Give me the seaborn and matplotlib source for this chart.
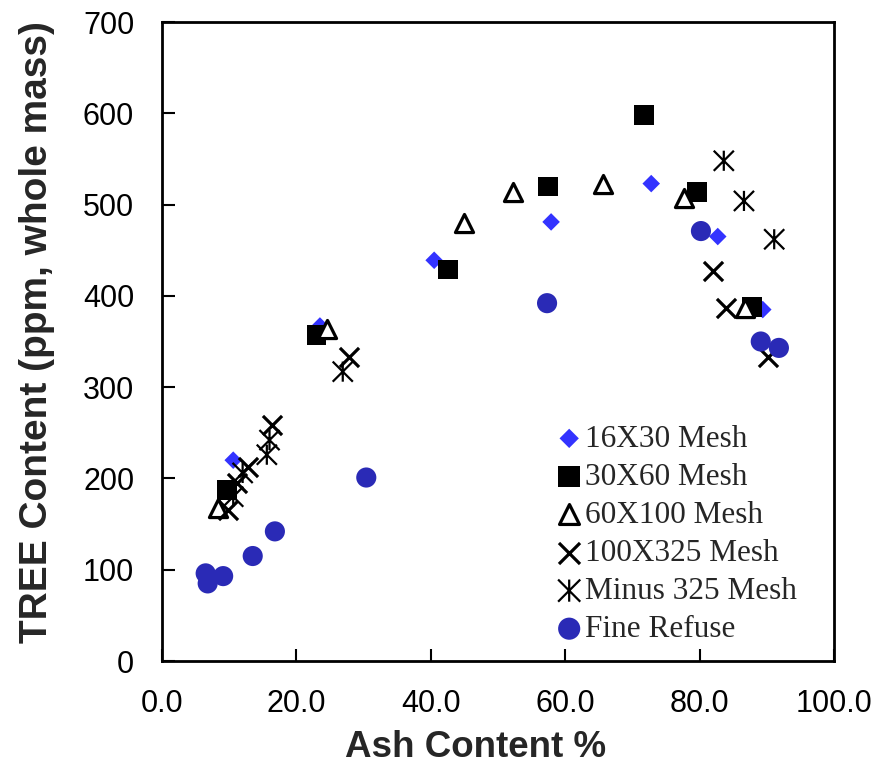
import numpy as np
import pandas as pd
import seaborn as sns
import matplotlib
matplotlib.use("Agg")
import matplotlib.pyplot as plt
from matplotlib.path import Path

# Ash content (%) and TREE content (ppm, whole mass) for each size fraction
ash_16x30 = [10.6, 23.5, 40.5, 57.9, 72.8, 82.7, 89.4]
tree_16x30 = [220, 367, 439, 481, 523, 465, 385]

ash_30x60 = [9.7, 23.0, 42.6, 57.4, 71.7, 79.6, 87.8]
tree_30x60 = [187, 357, 429, 520, 598, 514, 388]

ash_60x100 = [8.3, 24.5, 44.9, 52.2, 65.6, 77.7, 86.8]
tree_60x100 = [168, 364, 480, 514, 523, 507, 387]

ash_100x325 = [9.8, 11.2, 12.8, 16.4, 27.8, 82.0, 83.9, 90.2]
tree_100x325 = [165, 195, 212, 258, 333, 427, 387, 333]

ash_minus325 = [10.6, 12.0, 15.6, 16.0, 26.9, 83.6, 86.6, 91.1]
tree_minus325 = [180, 206, 226, 242, 317, 548, 504, 462]

ash_fine = [6.5, 6.8, 9.1, 13.5, 16.8, 30.4, 57.3, 80.2, 89.1, 91.8]
tree_fine = [96, 85, 93, 115, 142, 201, 392, 471, 350, 343]

x_ticks = [0, 20, 40, 60, 80, 100]
y_ticks = [0, 100, 200, 300, 400, 500, 600, 700]

sns.set_style("white")
plt.rcParams["font.family"] = ["Liberation Sans", "DejaVu Sans"]

fig = plt.figure(figsize=(8.78, 7.67), dpi=100)
ax = fig.add_axes([0.1845, 0.1382, 0.7654, 0.8331])

# star marker: an X with a vertical bar through it
star = Path(
    [(0, -0.5), (0, 0.5), (-0.5, -0.5), (0.5, 0.5), (-0.5, 0.5), (0.5, -0.5)],
    [Path.MOVETO, Path.LINETO, Path.MOVETO, Path.LINETO, Path.MOVETO, Path.LINETO],
)

sns.scatterplot(x=ash_16x30, y=tree_16x30, marker="D", color="#3333FF",
                edgecolor="none", linewidth=0, s=80, label="16X30 Mesh",
                ax=ax, zorder=3)
sns.scatterplot(x=ash_30x60, y=tree_30x60, marker="s", color="black",
                edgecolor="none", linewidth=0, s=200, label="30X60 Mesh",
                ax=ax, zorder=3)
sns.scatterplot(x=ash_60x100, y=tree_60x100, marker="^", color="black",
                facecolor="white", edgecolor="black", linewidth=2.3, s=170,
                label="60X100 Mesh", ax=ax, zorder=3)
sns.scatterplot(x=ash_100x325, y=tree_100x325, marker="x", color="black",
                linewidth=2.3, s=190, label="100X325 Mesh", ax=ax, zorder=3)
sns.scatterplot(x=ash_minus325, y=tree_minus325, marker=star, color="black",
                facecolor="none", edgecolor="black", linewidth=1.6, s=210,
                label="Minus 325 Mesh", ax=ax, zorder=3)
sns.scatterplot(x=ash_fine, y=tree_fine, marker="o", color="#2A2AB6",
                edgecolor="none", linewidth=0, s=210, label="Fine Refuse",
                ax=ax, zorder=3)

ax.set_xlim(0, 100)
ax.set_ylim(0, 700)
ax.set_xticks(x_ticks)
ax.set_yticks(y_ticks)
ax.set_xticklabels([f"{v:.1f}" for v in x_ticks])
ax.set_yticklabels([str(v) for v in y_ticks])
ax.tick_params(axis="x", direction="in", length=9, width=1.5, pad=20,
               labelsize=22, colors="black", top=False, bottom=True)
ax.tick_params(axis="y", direction="in", length=9, width=1.5, pad=20,
               labelsize=22, colors="black", left=True, right=False)

for side in ["left", "right", "top", "bottom"]:
    ax.spines[side].set_visible(True)
    ax.spines[side].set_color("black")
    ax.spines[side].set_linewidth(2)

ax.set_xlabel("Ash Content %", fontsize=26.5, fontweight="bold")
ax.set_ylabel("TREE Content (ppm, whole mass)", fontsize=28,
              fontweight="bold")
ax.xaxis.set_label_coords(0.466, -0.135)
ax.yaxis.set_label_coords(-0.186, 0.515)
ax.xaxis.label.set_verticalalignment("center")
ax.yaxis.label.set_verticalalignment("center")

leg = ax.legend(loc="upper left", bbox_to_anchor=(0.585, 0.37),
                frameon=False, handletextpad=0.05, handlelength=0.9,
                labelspacing=0.29, borderaxespad=0, borderpad=0,
                markerscale=1.1,
                prop={"family": "Liberation Serif", "size": 22.5})

fig.savefig("out.png", dpi=100)
